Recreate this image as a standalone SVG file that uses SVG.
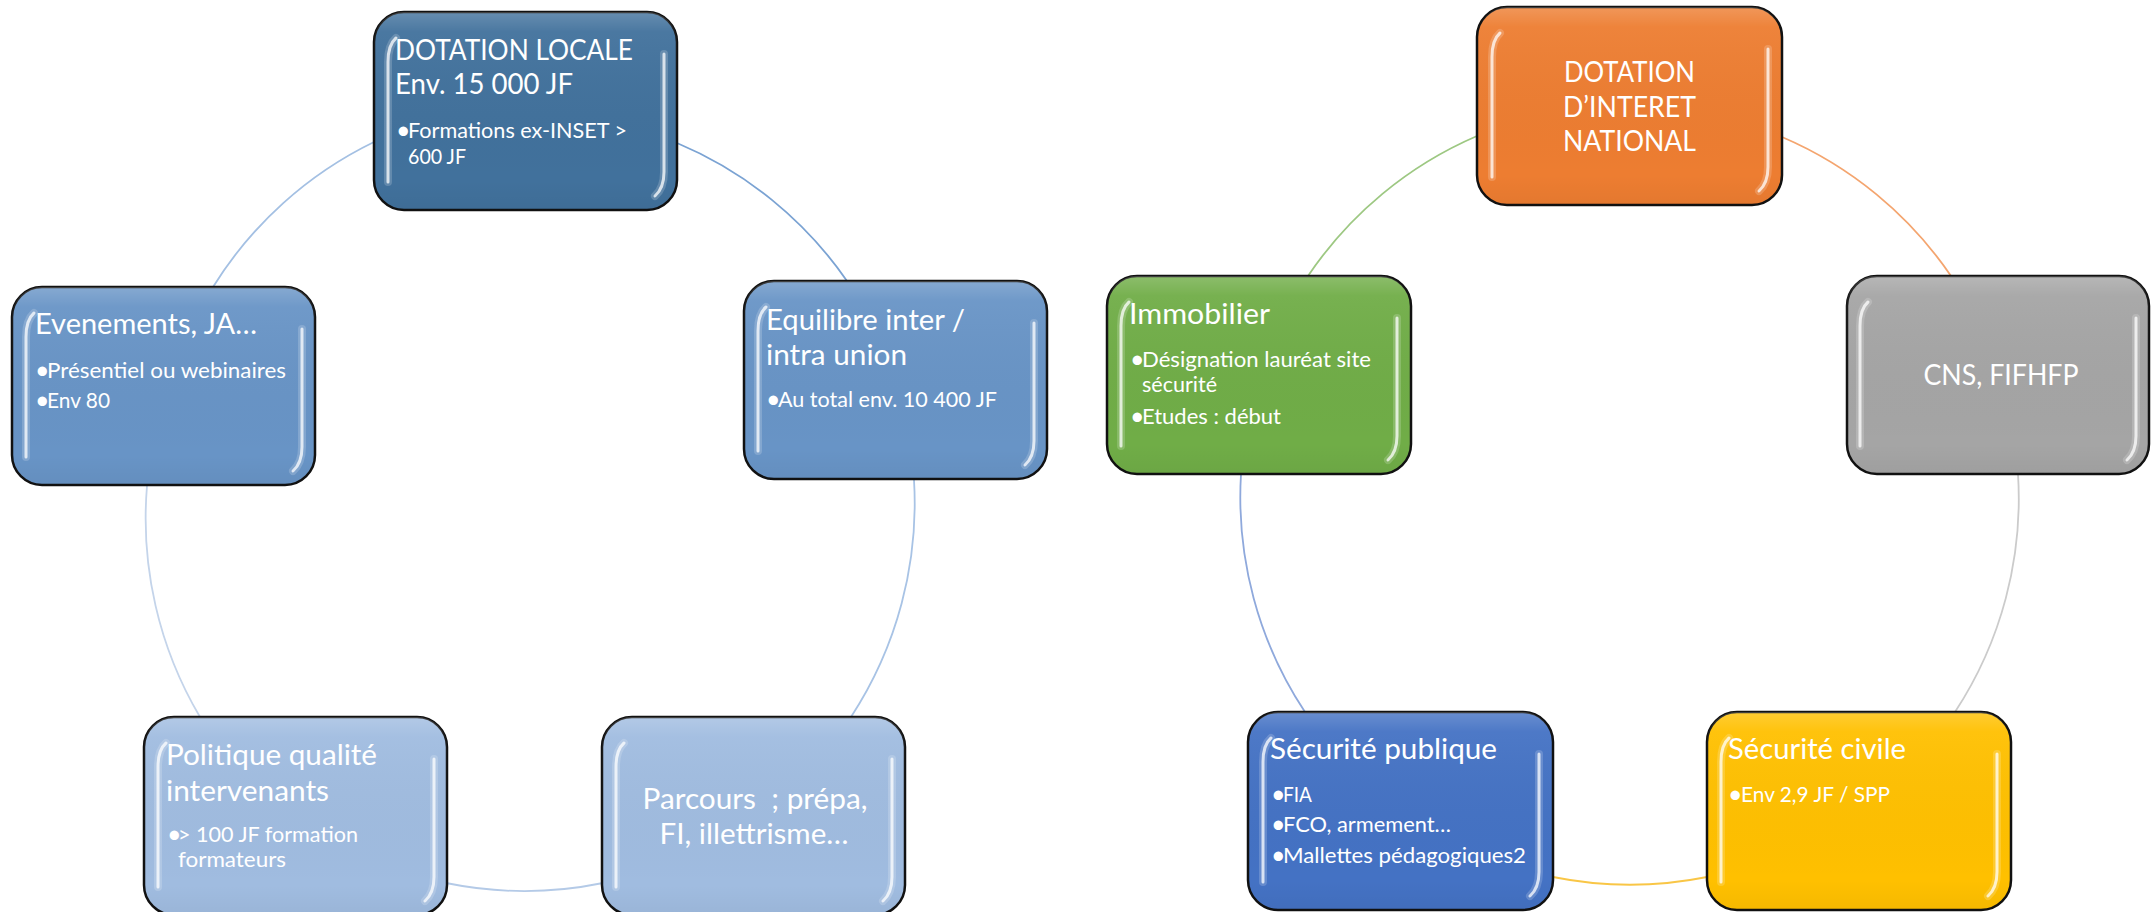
<svg xmlns="http://www.w3.org/2000/svg" xmlns:xlink="http://www.w3.org/1999/xlink" width="2151" height="912" viewBox="0 0 2151 912">
<style>
.box{stroke:#111;stroke-width:2.5}
.t{font-family:Lato,"Open Sans","Liberation Sans",sans-serif;fill:#fff;white-space:pre}
.h{font-size:29.5px}
.b{font-size:22px}
.d{font-size:25px}
.c{text-anchor:middle}
.arc{fill:none;stroke-width:1.8}
.gl{fill:none;stroke:#fff;stroke-linecap:round}
</style>
<defs>
<linearGradient id="sheen" x1="0" y1="0" x2="0" y2="1">
<stop offset="0" stop-color="#fff" stop-opacity="0.2"/>
<stop offset="0.1" stop-color="#fff" stop-opacity="0.05"/>
<stop offset="0.85" stop-color="#000" stop-opacity="0"/>
<stop offset="1" stop-color="#000" stop-opacity="0.04"/>
</linearGradient>
<g id="hl">
<rect width="303" height="198" rx="30" fill="url(#sheen)"/>
<path class="gl" d="M22 26 Q14 33 14 50 L14 170" stroke-width="8" opacity="0.18"/>
<path class="gl" d="M22 26 Q14 33 14 50 L14 170" stroke-width="3" opacity="0.75"/>
<path class="gl" d="M290 42 L290 160 Q290 176 281 184" stroke-width="8" opacity="0.18"/>
<path class="gl" d="M290 42 L290 160 Q290 176 281 184" stroke-width="3" opacity="0.75"/>
</g>
</defs>
<rect width="2151" height="912" fill="#fff"/>
<g id="connectors">
<path class="arc" stroke="#7BA3D3" d="M677 143 A390 390 0 0 1 847 281"/>
<path class="arc" stroke="#A8C3E5" d="M914 480 A390 390 0 0 1 851 717"/>
<path class="arc" stroke="#B4CAE7" d="M603 883 A390 390 0 0 1 446 883"/>
<path class="arc" stroke="#C4D4EA" d="M200 717 A390 390 0 0 1 147 486"/>
<path class="arc" stroke="#A4C0E3" d="M213 287 A390 390 0 0 1 374 142"/>
<path class="arc" stroke="#F4A56F" d="M1782 137 A389 389 0 0 1 1951 276"/>
<path class="arc" stroke="#CBCBCB" d="M2018 474 A389 389 0 0 1 1955 712"/>
<path class="arc" stroke="#F9C646" d="M1707 877 A389 389 0 0 1 1553 877"/>
<path class="arc" stroke="#8FA9DC" d="M1305 712 A389 389 0 0 1 1241 474"/>
<path class="arc" stroke="#9DC882" d="M1308 276 A389 389 0 0 1 1477 136"/>
</g>
<g id="dotation-locale">
<rect class="box" x="374" y="12" width="303" height="198" rx="30" fill="#41719C"/>
<use xlink:href="#hl" href="#hl" x="374" y="12"/>
<text class="t h" x="395" y="60" textLength="238" lengthAdjust="spacingAndGlyphs">DOTATION LOCALE</text>
<text class="t h" x="395" y="94" textLength="178" lengthAdjust="spacingAndGlyphs">Env. 15 000 JF</text>
<text class="t d" x="396" y="139">•</text>
<text class="t b" x="408" y="138" textLength="219" lengthAdjust="spacingAndGlyphs">Formations ex-INSET &gt;</text>
<text class="t b" x="408" y="164" textLength="58" lengthAdjust="spacingAndGlyphs">600 JF</text>
</g>
<g id="equilibre">
<rect class="box" x="744" y="281" width="303" height="198" rx="30" fill="#6894C6"/>
<use xlink:href="#hl" href="#hl" x="744" y="281"/>
<text class="t h" x="766" y="330" textLength="199" lengthAdjust="spacingAndGlyphs">Equilibre inter /</text>
<text class="t h" x="766" y="365" textLength="141" lengthAdjust="spacingAndGlyphs">intra union</text>
<text class="t d" x="766" y="408">•</text>
<text class="t b" x="778" y="407" textLength="219" lengthAdjust="spacingAndGlyphs">Au total env. 10 400 JF</text>
</g>
<g id="parcours">
<rect class="box" x="602" y="717" width="303" height="198" rx="30" fill="#A0BCE0"/>
<use xlink:href="#hl" href="#hl" x="602" y="717"/>
<text class="t h c" x="755" y="809" textLength="225" lengthAdjust="spacingAndGlyphs">Parcours  ; prépa,</text>
<text class="t h c" x="754" y="844" textLength="189" lengthAdjust="spacingAndGlyphs">FI, illettrisme…</text>
</g>
<g id="politique">
<rect class="box" x="144" y="717" width="303" height="198" rx="30" fill="#A0BCE0"/>
<use xlink:href="#hl" href="#hl" x="144" y="717"/>
<text class="t h" x="166" y="765" textLength="211" lengthAdjust="spacingAndGlyphs">Politique qualité</text>
<text class="t h" x="166" y="801" textLength="163" lengthAdjust="spacingAndGlyphs">intervenants</text>
<text class="t d" x="167" y="843">•</text>
<text class="t b" x="178" y="842" textLength="180" lengthAdjust="spacingAndGlyphs">&gt; 100 JF formation</text>
<text class="t b" x="178" y="867" textLength="108" lengthAdjust="spacingAndGlyphs">formateurs</text>
</g>
<g id="evenements">
<rect class="box" x="12" y="287" width="303" height="198" rx="30" fill="#6894C6"/>
<use xlink:href="#hl" href="#hl" x="12" y="287"/>
<text class="t h" x="35" y="334" textLength="222" lengthAdjust="spacingAndGlyphs">Evenements, JA…</text>
<text class="t d" x="35" y="379">•</text>
<text class="t b" x="47" y="378" textLength="239" lengthAdjust="spacingAndGlyphs">Présentiel ou webinaires</text>
<text class="t d" x="35" y="409">•</text>
<text class="t b" x="47" y="408" textLength="63" lengthAdjust="spacingAndGlyphs">Env 80</text>
</g>
<g id="dotation-interet-national">
<rect class="box" x="1477" y="7" width="305" height="198" rx="30" fill="#ED7D31"/>
<use xlink:href="#hl" href="#hl" x="1478" y="7"/>
<text class="t h c" x="1629.5" y="82" textLength="131" lengthAdjust="spacingAndGlyphs">DOTATION</text>
<text class="t h c" x="1629.5" y="117" textLength="133" lengthAdjust="spacingAndGlyphs">D’INTERET</text>
<text class="t h c" x="1629.5" y="151" textLength="133" lengthAdjust="spacingAndGlyphs">NATIONAL</text>
</g>
<g id="cns">
<rect class="box" x="1847" y="276" width="302" height="198" rx="30" fill="#A5A5A5"/>
<use xlink:href="#hl" href="#hl" x="1846" y="276"/>
<text class="t h c" x="2001" y="385" textLength="155" lengthAdjust="spacingAndGlyphs">CNS, FIFHFP</text>
</g>
<g id="securite-civile">
<rect class="box" x="1707" y="712" width="304" height="198" rx="30" fill="#FFC000"/>
<use xlink:href="#hl" href="#hl" x="1707" y="712"/>
<text class="t h" x="1728" y="759" textLength="178" lengthAdjust="spacingAndGlyphs">Sécurité civile</text>
<text class="t d" x="1728" y="803">•</text>
<text class="t b" x="1741" y="802" textLength="149" lengthAdjust="spacingAndGlyphs">Env 2,9 JF / SPP</text>
</g>
<g id="securite-publique">
<rect class="box" x="1248" y="712" width="305" height="198" rx="30" fill="#4472C4"/>
<use xlink:href="#hl" href="#hl" x="1249" y="712"/>
<text class="t h" x="1270" y="759" textLength="227" lengthAdjust="spacingAndGlyphs">Sécurité publique</text>
<text class="t d" x="1271" y="803">•</text>
<text class="t b" x="1283" y="802" textLength="29" lengthAdjust="spacingAndGlyphs">FIA</text>
<text class="t d" x="1271" y="833">•</text>
<text class="t b" x="1283" y="832" textLength="168" lengthAdjust="spacingAndGlyphs">FCO, armement…</text>
<text class="t d" x="1271" y="864">•</text>
<text class="t b" x="1283" y="863" textLength="243" lengthAdjust="spacingAndGlyphs">Mallettes pédagogiques2</text>
</g>
<g id="immobilier">
<rect class="box" x="1107" y="276" width="304" height="198" rx="30" fill="#70AD47"/>
<use xlink:href="#hl" href="#hl" x="1107" y="276"/>
<text class="t h" x="1129" y="324" textLength="141" lengthAdjust="spacingAndGlyphs">Immobilier</text>
<text class="t d" x="1130" y="368">•</text>
<text class="t b" x="1142" y="367" textLength="229" lengthAdjust="spacingAndGlyphs">Désignation lauréat site</text>
<text class="t b" x="1142" y="392" textLength="75" lengthAdjust="spacingAndGlyphs">sécurité</text>
<text class="t d" x="1130" y="425">•</text>
<text class="t b" x="1142" y="424" textLength="139" lengthAdjust="spacingAndGlyphs">Etudes : début</text>
</g>
</svg>
